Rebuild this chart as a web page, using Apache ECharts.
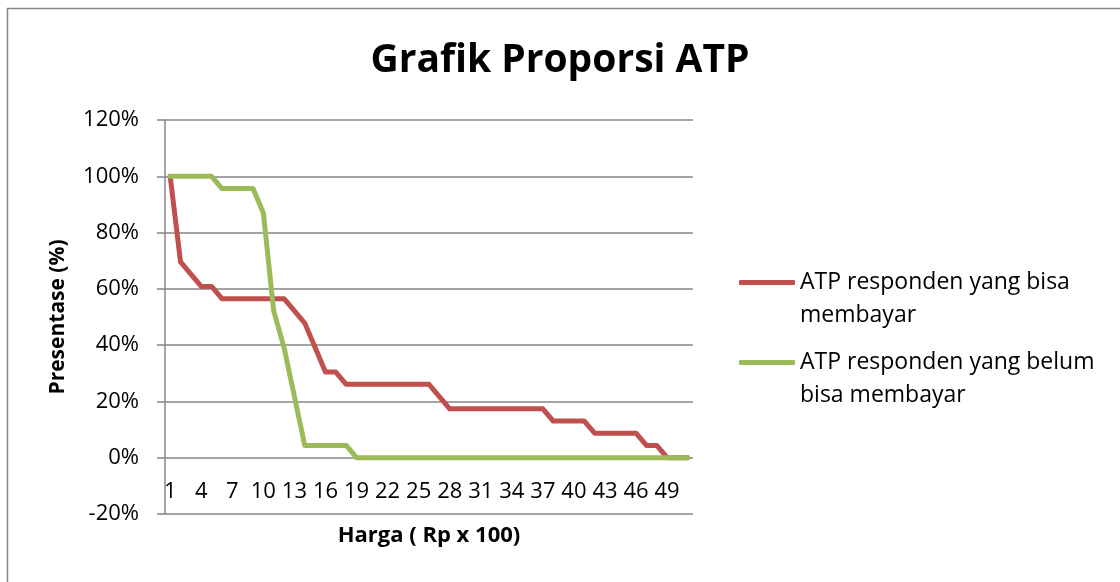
<!DOCTYPE html>
<html>
<head>
<meta charset="utf-8">
<title>Grafik Proporsi ATP</title>
<script src="https://cdn.jsdelivr.net/npm/echarts@6/dist/echarts.min.js"></script>
<style>
  html, body { margin: 0; padding: 0; background: #fff; }
  #chart { width: 1120px; height: 582px; }
</style>
</head>
<body>
<div id="chart"></div>
<script>
// harga (Rp x 100): 1 .. 51
const categories = ['1', '2', '3', '4', '5', '6', '7', '8', '9', '10',
  '11', '12', '13', '14', '15', '16', '17', '18', '19', '20',
  '21', '22', '23', '24', '25', '26', '27', '28', '29', '30',
  '31', '32', '33', '34', '35', '36', '37', '38', '39', '40',
  '41', '42', '43', '44', '45', '46', '47', '48', '49', '50', '51']

// proporsi (%)
const bisaBayar = [100, 69.57, 65.22, 60.87, 60.87, 56.52, 56.52, 56.52, 56.52, 56.52,
  56.52, 56.52, 52.17, 47.83, 39.13, 30.43, 30.43, 26.09, 26.09, 26.09,
  26.09, 26.09, 26.09, 26.09, 26.09, 26.09, 21.74, 17.39, 17.39, 17.39,
  17.39, 17.39, 17.39, 17.39, 17.39, 17.39, 17.39, 13.04, 13.04, 13.04,
  13.04, 8.70, 8.70, 8.70, 8.70, 8.70, 4.35, 4.35, 0, 0, 0]

const belumBisaBayar = [100, 100, 100, 100, 100, 95.65, 95.65, 95.65, 95.65, 86.96,
  52.17, 39.13, 21.74, 4.35, 4.35, 4.35, 4.35, 4.35, 0, 0,
  0, 0, 0, 0, 0, 0, 0, 0, 0, 0,
  0, 0, 0, 0, 0, 0, 0, 0, 0, 0,
  0, 0, 0, 0, 0, 0, 0, 0, 0, 0, 0]

const nameBisa = 'ATP responden yang bisa\nmembayar'
const nameBelum = 'ATP responden yang belum\nbisa membayar'

const FONT = '"Open Sans", "Noto Sans", sans-serif'
const GRAY = '#868686'

const chart = echarts.init(document.getElementById('chart'), null, { renderer: 'canvas' })

// legend icon is centred on the text block, so add an empty line on top
// to get the icon level with the first line (like excel does)
function legendItem(name, top) {
  return {
    data: [name],
    left: 739,
    top: top,
    padding: 0,
    icon: 'roundRect',
    itemWidth: 56,
    itemHeight: 5,
    itemGap: 0,
    formatter: (n) => ' \n' + n,
    textStyle: {
      color: '#000',
      fontSize: 23,
      fontFamily: FONT,
      lineHeight: 33,
    },
  }
}

const option = {
  animation: false,
  textStyle: { fontFamily: FONT },
  title: {
    text: 'Grafik Proporsi ATP',
    left: 'center',
    top: 41,
    padding: 0,
    textStyle: {
      color: '#000',
      fontSize: 39,
      fontWeight: 'bold',
      fontFamily: FONT,
    },
  },
  graphic: [
    {
      type: 'rect',
      silent: true,
      shape: { x: 7.5, y: 8.5, width: 1300, height: 800 },
      style: { fill: 'none', stroke: GRAY, lineWidth: 1.5 },
    },
  ],
  legend: [legendItem(nameBisa, 233), legendItem(nameBelum, 313)],
  grid: {
    left: 165,
    right: 427,
    top: 120,
    bottom: 68,
    containLabel: false,
    outerBoundsMode: 'none',
  },
  xAxis: {
    type: 'category',
    data: categories,
    boundaryGap: true,
    name: 'Harga ( Rp x 100)',
    nameLocation: 'middle',
    nameGap: 11,
    nameMoveOverlap: false,
    nameTextStyle: {
      color: '#000',
      fontSize: 22,
      fontWeight: 'bold',
      fontFamily: FONT,
    },
    // the 0% grid line already plays the axis line
    axisLine: { show: false, onZero: false },
    axisTick: { show: false },
    axisLabel: {
      inside: true,
      interval: 2,
      margin: 11,
      color: '#000',
      fontSize: 22,
      fontFamily: FONT,
    },
    splitLine: { show: false },
  },
  yAxis: {
    type: 'value',
    min: -20,
    max: 120,
    interval: 20,
    name: 'Presentase (%)',
    nameLocation: 'middle',
    nameGap: 96,
    nameMoveOverlap: false,
    nameTextStyle: {
      color: '#000',
      fontSize: 21,
      fontWeight: 'bold',
      fontFamily: FONT,
    },
    axisLine: { show: true, lineStyle: { color: GRAY, width: 1.5 } },
    axisTick: { show: true, length: 8, lineStyle: { color: GRAY, width: 1.5 } },
    axisLabel: {
      formatter: '{value}%',
      margin: 26,
      color: '#000',
      fontSize: 22,
      fontFamily: FONT,
    },
    splitLine: { show: true, lineStyle: { color: GRAY, width: 1.5 } },
  },
  series: [
    {
      name: nameBisa,
      type: 'line',
      data: bisaBayar,
      showSymbol: false,
      symbol: 'none',
      itemStyle: { color: '#c0504d' },
      lineStyle: { color: '#c0504d', width: 5, cap: 'round', join: 'round' },
      z: 3,
    },
    {
      name: nameBelum,
      type: 'line',
      data: belumBisaBayar,
      showSymbol: false,
      symbol: 'none',
      itemStyle: { color: '#9bbb59' },
      lineStyle: { color: '#9bbb59', width: 5, cap: 'round', join: 'round' },
      z: 4,
    },
  ],
}

chart.setOption(option, true)
</script>
</body>
</html>
